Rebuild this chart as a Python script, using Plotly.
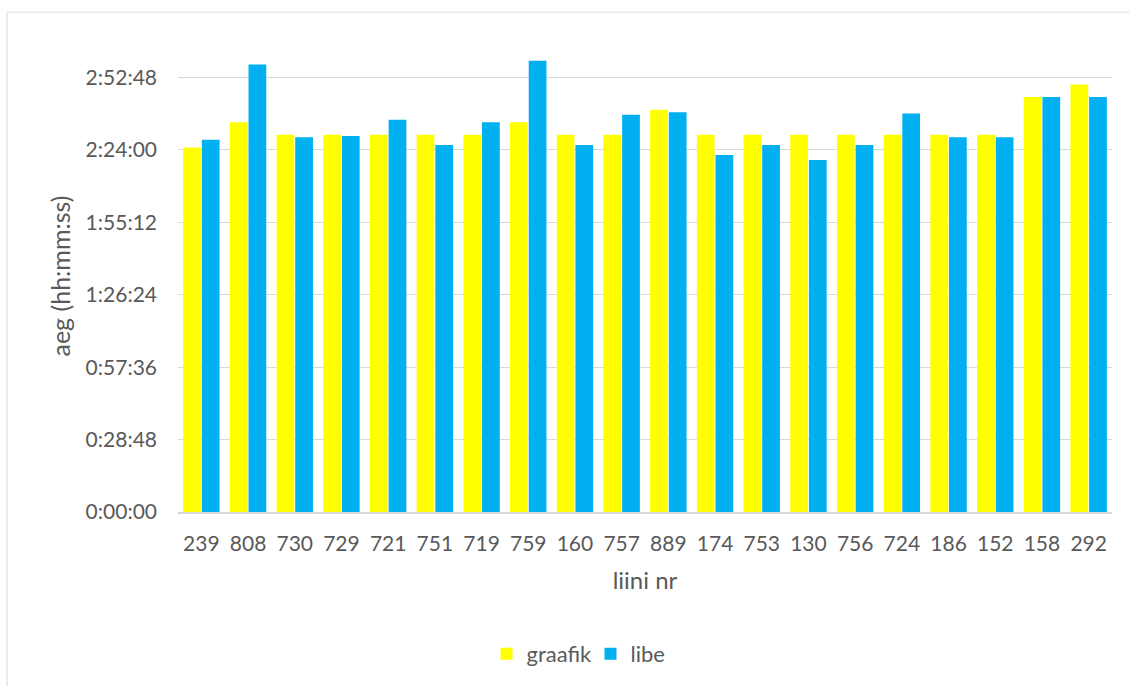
import plotly.graph_objects as go

# Line numbers and average trip durations (hh:mm:ss)
lines = ["239", "808", "730", "729", "721", "751", "719", "759", "160", "757",
         "889", "174", "753", "130", "756", "724", "186", "152", "158", "292"]
graafik = ["2:25:00", "2:35:00", "2:30:00", "2:30:00", "2:30:00", "2:30:00", "2:30:00",
           "2:35:00", "2:30:00", "2:30:00", "2:40:00", "2:30:00", "2:30:00", "2:30:00",
           "2:30:00", "2:30:00", "2:30:00", "2:30:00", "2:45:00", "2:50:00"]
libe = ["2:28:00", "2:58:00", "2:29:00", "2:29:30", "2:36:00", "2:26:00", "2:35:00",
        "2:59:30", "2:26:00", "2:38:00", "2:39:00", "2:22:00", "2:26:00", "2:20:00",
        "2:26:00", "2:38:30", "2:29:00", "2:29:00", "2:45:00", "2:45:00"]
tick_labels = ["0:00:00", "0:28:48", "0:57:36", "1:26:24", "1:55:12", "2:24:00", "2:52:48"]


def to_seconds(t):
    h, m, s = (int(p) for p in t.split(":"))
    return h * 3600 + m * 60 + s


tick_values = [to_seconds(t) for t in tick_labels]

FONT = "Lato, 'Open Sans', sans-serif"
TEXT = "#595959"
GRID = "#d9d9d9"

fig = go.Figure()
fig.add_trace(go.Bar(name="graafik", x=lines, y=[to_seconds(v) for v in graafik],
                     marker=dict(color="#FFFF00", line=dict(width=0)),
                     customdata=graafik, hovertemplate="%{x}: %{customdata}<extra>graafik</extra>"))
fig.add_trace(go.Bar(name="libe", x=lines, y=[to_seconds(v) for v in libe],
                     marker=dict(color="#00B0F0", line=dict(width=0)),
                     customdata=libe, hovertemplate="%{x}: %{customdata}<extra>libe</extra>"))

fig.update_layout(
    width=1129, height=686,
    margin=dict(l=178, r=17, t=20, b=173),
    paper_bgcolor="white", plot_bgcolor="white",
    barmode="group", bargap=0.2, bargroupgap=0.05,
    font=dict(family=FONT, size=21, color=TEXT),
    showlegend=True,
    legend=dict(orientation="h", x=0.3303, xanchor="left", y=-0.286, yanchor="middle",
                font=dict(size=22, color=TEXT), itemwidth=30, traceorder="normal",
                entrywidth=59, entrywidthmode="pixels"),
    xaxis=dict(type="category", showgrid=False, showline=True, linecolor=GRID, linewidth=1.5,
               ticks="", ticklabelstandoff=12,
               title=dict(text="liini nr", standoff=18, font=dict(size=24, color=TEXT))),
    yaxis=dict(range=[0, 11740], tickvals=tick_values, ticktext=tick_labels,
               showgrid=True, gridcolor=GRID, gridwidth=1.3, zeroline=False,
               showline=False, ticks="", ticklabelstandoff=20),
    annotations=[dict(text="aeg (hh:mm:ss)", textangle=-90, xref="paper", yref="paper",
                      x=-0.1263, y=0.4787, xanchor="center", yanchor="middle",
                      showarrow=False, font=dict(size=25, color=TEXT))],
    shapes=[dict(type="rect", xref="paper", yref="paper",
                 x0=-0.183, x1=1.05, y0=-0.4, y1=1.016,
                 line=dict(color=GRID, width=1), fillcolor="rgba(0,0,0,0)", layer="below")],
)

fig.write_html("out.html")
